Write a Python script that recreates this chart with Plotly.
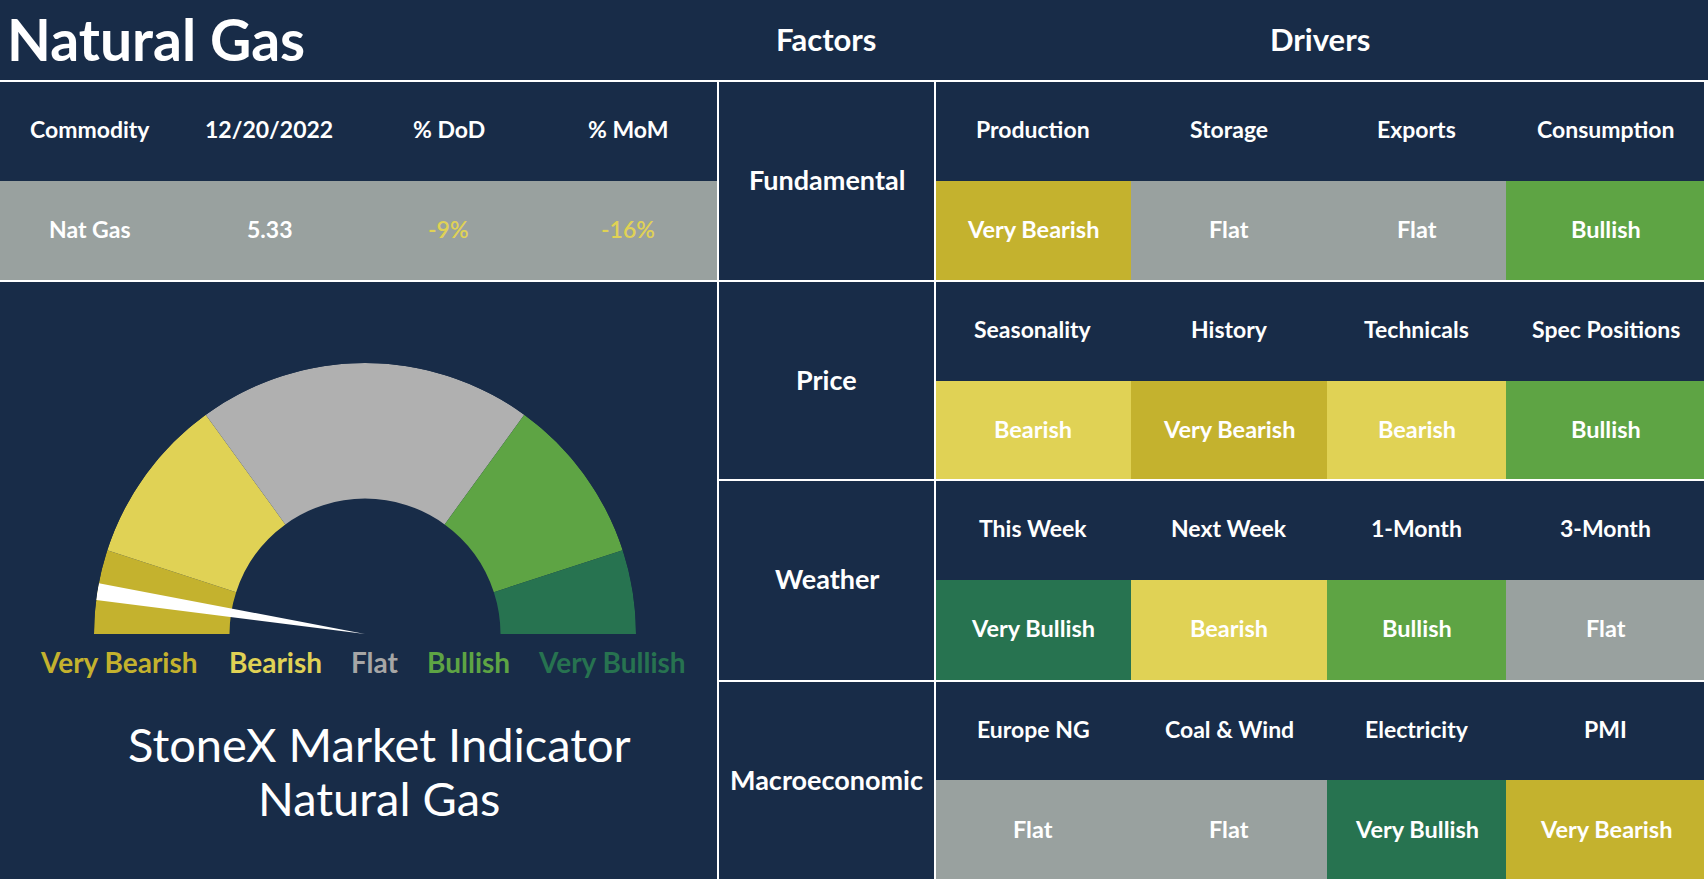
import numpy as np
import plotly.graph_objects as go

# ---------------- data ----------------
title_text = "Natural Gas"
commodity_headers = ["Commodity", "12/20/2022", "% DoD", "% MoM"]
commodity_values = ["Nat Gas", "5.33", "-9%", "-16%"]
factors = ["Fundamental", "Price", "Weather", "Macroeconomic"]
fundamental_drivers = ["Production", "Storage", "Exports", "Consumption"]
fundamental_signals = ["Very Bearish", "Flat", "Flat", "Bullish"]
price_drivers = ["Seasonality", "History", "Technicals", "Spec Positions"]
price_signals = ["Bearish", "Very Bearish", "Bearish", "Bullish"]
weather_drivers = ["This Week", "Next Week", "1-Month", "3-Month"]
weather_signals = ["Very Bullish", "Bearish", "Bullish", "Flat"]
macro_drivers = ["Europe NG", "Coal & Wind", "Electricity", "PMI"]
macro_signals = ["Flat", "Flat", "Very Bullish", "Very Bearish"]
gauge_labels = ["Very Bearish", "Bearish", "Flat", "Bullish", "Very Bullish"]
gauge_shares = [10, 20, 40, 20, 10]      # % of the half circle
needle_value = 5                          # position on 0-100 scale
needle_width = 2
indicator_title = ["StoneX Market Indicator", "Natural Gas"]

# ---------------- styles ----------------
NAVY = "#182C48"
WHITE = "#FFFFFF"
FONT = "Lato, 'Open Sans', sans-serif"
signal_order = ["Header", "Very Bearish", "Bearish", "Flat", "Bullish", "Very Bullish"]
cell_colors = [NAVY, "#C4B22E", "#E0D255", "#99A19F", "#5EA444", "#277350"]
gauge_colors = ["#C4B22E", "#E0D255", "#B0B0B0", "#5EA444", "#277350"]
label_colors = ["#C4B22E", "#E0D255", "#A6A6A6", "#5EA444", "#277350"]
value_colors = [WHITE, WHITE, "#E0D255", "#E0D255"]

W, H = 1708, 884
HDR = 81
row_edges = [81, 181, 281, 381, 480, 580, 681, 780, 880]
LEFT_W = 718
fac_x = [718, 935]
drv_x = [935, 1131, 1327, 1506, 1705]
com_x = list(np.linspace(0, LEFT_W, 5))
g_cx, g_cy, g_R = 365, 634, 271
g_hole = 0.5
label_x = [119, 275, 375, 468, 612]
label_y = 662
ind_x, ind_y = [379, 379], [744, 798]
dy = -2   # small vertical text offset

drivers = [fundamental_drivers, price_drivers, weather_drivers, macro_drivers]
signals = [fundamental_signals, price_signals, weather_signals, macro_signals]

n = len(cell_colors)
cscale = []
for k, c in enumerate(cell_colors):
    cscale.append([k / n, c])
    cscale.append([(k + 1) / n, c])

fig = go.Figure()

# driver grid cells
z = []
for sig in signals:
    z.append([0] * len(sig))
    z.append([signal_order.index(s) for s in sig])
fig.add_trace(go.Heatmap(x=drv_x, y=row_edges, z=z, colorscale=cscale, zmin=-0.5, zmax=n - 0.5,
                         showscale=False, hoverinfo="skip", xaxis="x", yaxis="y"))
# commodity table cells
zc = [[0] * len(commodity_headers), [signal_order.index("Flat")] * len(commodity_values)]
fig.add_trace(go.Heatmap(x=com_x, y=row_edges[:3], z=zc, colorscale=cscale, zmin=-0.5, zmax=n - 0.5,
                         showscale=False, hoverinfo="skip", xaxis="x", yaxis="y"))

# gauge
edges = np.concatenate([[0], np.cumsum(gauge_shares)]) * 180.0 / 100.0
mids = (edges[:-1] + edges[1:]) / 2
widths = np.diff(edges)
fig.add_trace(go.Barpolar(theta=mids, width=widths, r=[1 - g_hole] * len(mids), base=g_hole,
                          marker=dict(color=gauge_colors, line=dict(width=0)), hoverinfo="skip"))
fig.add_trace(go.Barpolar(theta=[needle_value * 1.8], width=[needle_width * 1.8], r=[1], base=0,
                          marker=dict(color=WHITE, line=dict(width=0)), hoverinfo="skip"))

ann = []
def txt(x, y, t, size, color=WHITE, weight="bold", xanchor="center"):
    ann.append(dict(x=x, y=y, xref="x", yref="y", text=t, showarrow=False, xanchor=xanchor, yanchor="middle",
                    font=dict(family=FONT, size=size, color=color, weight=weight)))

txt(5, HDR / 2 + dy, title_text, 57, xanchor="left")
txt(sum(fac_x) / 2, HDR / 2 + dy, "Factors", 31)
txt((drv_x[0] + drv_x[-1]) / 2, HDR / 2 + dy, "Drivers", 31)
for j in range(4):
    cx = (com_x[j] + com_x[j + 1]) / 2
    txt(cx, 131 + dy, commodity_headers[j], 23)
    txt(cx, 231 + dy, commodity_values[j], 23, color=value_colors[j], weight="bold" if j < 2 else 600)
for i, f in enumerate(factors):
    y0 = row_edges[2 * i]
    txt(sum(fac_x) / 2, y0 + 100 + dy, f, 27)
    for j in range(4):
        cx = (drv_x[j] + drv_x[j + 1]) / 2
        txt(cx, y0 + 50 + dy, drivers[i][j], 23)
        txt(cx, y0 + 150 + dy, signals[i][j], 23.5)
for k, lab in enumerate(gauge_labels):
    txt(label_x[k], label_y, lab, 28, color=label_colors[k])
for k, t in enumerate(indicator_title):
    txt(ind_x[k], ind_y[k], t, 47, weight="normal")

shapes = []
def line(x0, y0, x1, y1, w=2):
    shapes.append(dict(type="line", xref="x", yref="y", x0=x0, y0=y0, x1=x1, y1=y1,
                       line=dict(color=WHITE, width=w), layer="above"))
line(0, HDR, W, HDR)
line(0, 281, 1706, 281)
for y in [480, 681]:
    line(fac_x[0], y, 1706, y)
for x in [fac_x[0], fac_x[1]]:
    line(x, HDR, x, 881)
shapes.append(dict(type="rect", xref="x", yref="y", x0=1704, x1=W, y0=HDR, y1=H,
                   fillcolor=WHITE, line=dict(width=0), layer="above"))
shapes.append(dict(type="rect", xref="x", yref="y", x0=0, x1=W, y0=879, y1=H,
                   fillcolor=WHITE, line=dict(width=0), layer="above"))

fig.update_layout(
    width=W, height=H, margin=dict(l=0, r=0, t=0, b=0),
    paper_bgcolor=NAVY, plot_bgcolor=NAVY, showlegend=False,
    xaxis=dict(range=[0, W], domain=[0, 1], visible=False, fixedrange=True),
    yaxis=dict(range=[H, 0], domain=[0, 1], visible=False, fixedrange=True),
    polar=dict(domain=dict(x=[(g_cx - g_R) / W, (g_cx + g_R) / W], y=[(H - g_cy) / H, (H - g_cy + g_R) / H]),
               sector=[0, 180], hole=0, bgcolor="rgba(0,0,0,0)",
               angularaxis=dict(rotation=180, direction="clockwise", visible=False),
               radialaxis=dict(range=[0, 1], visible=False)),
    annotations=ann, shapes=shapes,
)

fig.write_html("out.html", config={"displayModeBar": False, "staticPlot": True},
               post_script="document.body.style.margin='0';document.body.style.overflow='hidden';")
